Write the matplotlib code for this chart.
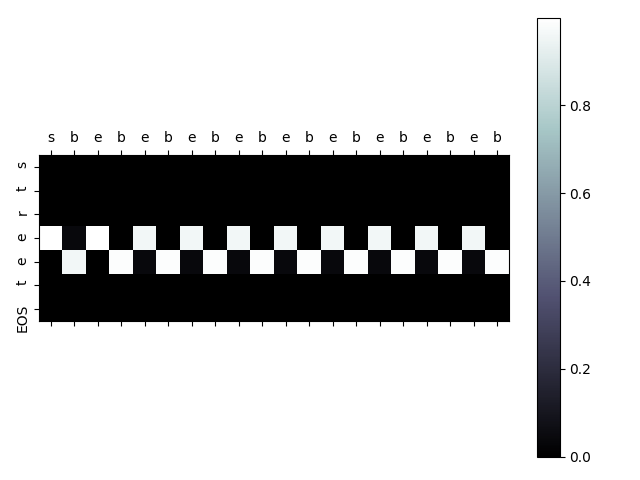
import matplotlib
matplotlib.use("Agg")
import matplotlib.pyplot as plt
import numpy as np

input_labels = ["s", "b", "e", "b", "e", "b", "e", "b", "e", "b",
                "e", "b", "e", "b", "e", "b", "e", "b", "e", "b"]
output_labels = ["s", "t", "r", "e", "e", "t", "EOS"]

row_zero = [0.0] * 20
row_e1 = [0.998, 0.04, 0.997, 0.0, 0.96, 0.0, 0.96, 0.0, 0.96, 0.0,
          0.96, 0.0, 0.96, 0.0, 0.96, 0.0, 0.96, 0.0, 0.96, 0.0]
row_e2 = [0.0, 0.96, 0.0, 0.99, 0.04, 0.99, 0.04, 0.99, 0.04, 0.99,
          0.04, 0.99, 0.04, 0.99, 0.04, 0.99, 0.04, 0.99, 0.04, 0.99]

attn = np.array([row_zero, row_zero, row_zero, row_e1, row_e2, row_zero, row_zero])

W, H = 640, 480
fig = plt.figure(figsize=(6.4, 4.8), dpi=100)
ax = fig.add_axes([39 / W, 1 - 321 / H, 470 / W, 166 / H])
cbax = fig.add_axes([537 / W, 1 - 456.5 / H, 22.5 / W, 438.2 / H])
cax = ax.matshow(attn, cmap="bone", aspect="auto")
fig.colorbar(cax, cax=cbax)
ax.set_xticks(np.arange(len(input_labels)))
ax.set_xticklabels(input_labels)
ax.set_yticks(np.arange(len(output_labels)))
ax.set_yticklabels(output_labels, rotation=90)
fig.savefig("out.png", dpi=100)
